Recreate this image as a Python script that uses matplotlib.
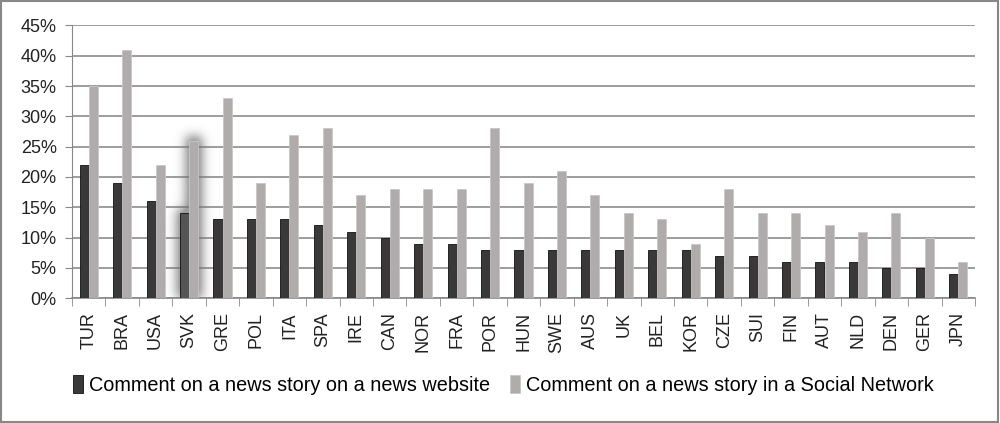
import matplotlib
matplotlib.use("Agg")
import matplotlib.pyplot as plt
import numpy as np
from matplotlib.patches import Rectangle

countries = ["TUR", "BRA", "USA", "SVK", "GRE", "POL", "ITA", "SPA", "IRE", "CAN",
             "NOR", "FRA", "POR", "HUN", "SWE", "AUS", "UK", "BEL", "KOR", "CZE",
             "SUI", "FIN", "AUT", "NLD", "DEN", "GER", "JPN"]
news_website = [22, 19, 16, 14, 13, 13, 13, 12, 11, 10,
                9, 9, 8, 8, 8, 8, 8, 8, 8, 7,
                7, 6, 6, 6, 5, 5, 4]
social_network = [35, 41, 22, 26, 33, 19, 27, 28, 17, 18,
                  18, 18, 28, 19, 21, 17, 14, 13, 9, 18,
                  14, 14, 12, 11, 14, 10, 6]
series_labels = ["Comment on a news story on a news website",
                 "Comment on a news story in a Social Network"]
yticks = [0, 5, 10, 15, 20, 25, 30, 35, 40, 45]
highlight = "SVK"

plt.rcParams['font.family'] = ['Liberation Sans', 'DejaVu Sans']

fig = plt.figure(figsize=(10, 4.23), dpi=100)
ax = fig.add_axes([0.072, 0.295, 0.903, 0.645])

x = np.arange(len(countries))
w = 0.27
dark = "#3a3838"
light = "#b0acac"

ax.set_xlim(-0.5, len(countries) - 0.5)
ax.set_ylim(0, 45)

# soft glow around highlighted bars
hi = countries.index(highlight)
fig.canvas.draw()
bb = ax.get_window_extent()
pxx = bb.width / (len(countries))      # pixels per x unit
pxy = bb.height / 45.0                 # pixels per y unit
x0, x1 = hi - 1.0, hi + 1.0
y0, y1 = 0.0, 38.0
nx = int((x1 - x0) * pxx)
ny = int((y1 - y0) * pxy)
gx = x0 + (np.arange(nx) + 0.5) / pxx
gy = y0 + (np.arange(ny) + 0.5) / pxy
GX, GY = np.meshgrid(gx, gy)
ext_x = 3.0 / pxx
ext_y = 3.0 / pxy
mask = (((GX >= hi - w - ext_x) & (GX <= hi) & (GY <= news_website[hi] + ext_y)) |
        ((GX >= hi - ext_x) & (GX <= hi + w + ext_x) & (GY <= social_network[hi] + ext_y))).astype(float)
sig = 5.5
k = np.arange(-22, 23)
kern = np.exp(-0.5 * (k / sig) ** 2)
kern /= kern.sum()
blur = np.apply_along_axis(lambda r: np.convolve(r, kern, mode="same"), 1, mask)
blur = np.apply_along_axis(lambda c: np.convolve(c, kern, mode="same"), 0, blur)
rgba = np.zeros((ny, nx, 4))
rgba[..., :3] = 0.45
rgba[..., 3] = np.clip(blur * 1.0, 0, 0.7)
ax.imshow(rgba, extent=(x0, x1, y0, y1), origin="lower", aspect="auto",
          zorder=1.5, interpolation="bilinear")

b1 = ax.bar(x - w / 2, news_website, w, color=dark, edgecolor="#111111", linewidth=0.6,
            label=series_labels[0], zorder=3)
b2 = ax.bar(x + w / 2, social_network, w, color=light, edgecolor="#c8c6c6", linewidth=0.6,
            label=series_labels[1], zorder=3)
b1[hi].set_facecolor("#555555")

ax.set_xlim(-0.5, len(countries) - 0.5)
ax.set_ylim(0, 45)
ax.set_yticks(yticks)
ax.set_yticklabels([f"{v}%" for v in yticks], fontsize=13, color="#222222")
ax.set_xticks(x)
ax.set_xticklabels(countries, rotation=90, fontsize=13, color="#222222")
ax.set_xticks(np.arange(len(countries) + 1) - 0.5, minor=True)
ax.tick_params(axis="x", which="major", length=0, pad=10)
ax.tick_params(axis="x", which="minor", length=6, color="#888888")
ax.tick_params(axis="y", length=5, color="#888888", pad=6)
ax.yaxis.grid(True, color="#8c8c8c", linewidth=1.2)
ax.set_axisbelow(True)
for s in ["top", "right"]:
    ax.spines[s].set_visible(False)
ax.spines["left"].set_color("#888888")
ax.spines["bottom"].set_color("#888888")
ax.spines["bottom"].set_linewidth(1.2)

leg = fig.legend(handles=[b1, b2], labels=series_labels, loc="center", bbox_to_anchor=(0.503, 0.09),
                 ncol=2, frameon=False, fontsize=14.3, handlelength=0.5, handleheight=1.0,
                 handletextpad=0.3, columnspacing=1.0)
leg.legend_handles[0].set_facecolor(dark)
leg.legend_handles[1].set_facecolor(light)

fig.patches.append(Rectangle((0.001, 0.002), 0.997, 0.995, transform=fig.transFigure,
                             fill=False, edgecolor="#888888", linewidth=1.5))

fig.savefig("out.png", dpi=100)
